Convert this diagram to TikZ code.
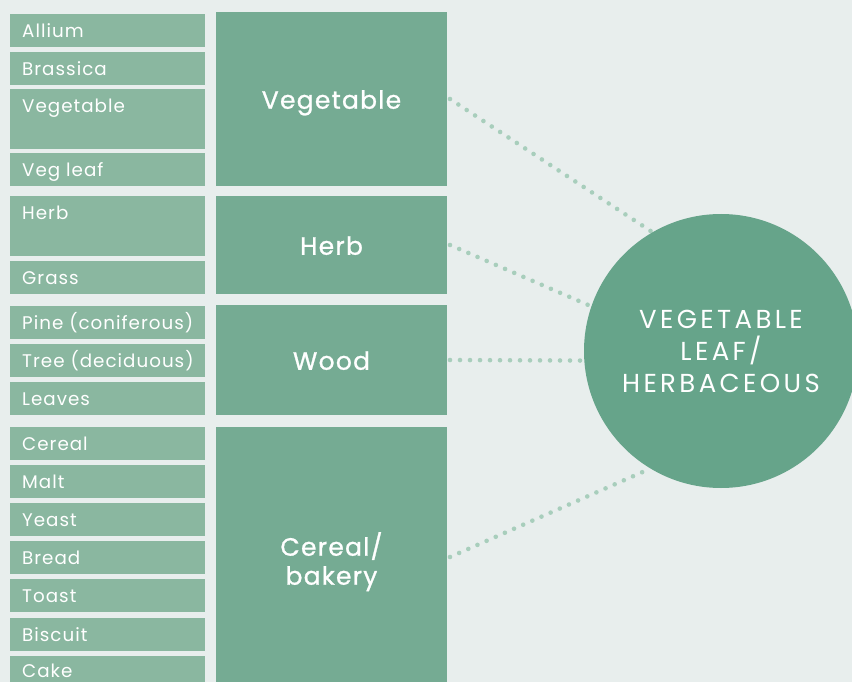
\documentclass[tikz,border=0pt]{standalone}
\usepackage{fontspec}
\setmainfont{Poppins}
\newfontfamily\smallfont[LetterSpace=5.5]{Poppins}
\newfontfamily\medfont[FakeBold=1,LetterSpace=5]{Poppins}
\newfontfamily\hubfont[LetterSpace=13]{Poppins}
\definecolor{bgc}{RGB}{232,238,237}
\definecolor{smallc}{RGB}{138,183,160}
\definecolor{bigc}{RGB}{117,171,147}
\definecolor{circc}{RGB}{102,164,138}
\definecolor{dotc}{RGB}{168,206,188}
\tikzset{
  smallbox/.style={draw=none, fill=smallc, anchor=north west, minimum width=195pt, inner sep=0pt, outer sep=0pt},
  smalltext/.style={anchor=base west, inner sep=0pt, text=white, font=\smallfont\fontsize{18.3}{20}\selectfont},
  bigbox/.style={draw=none, fill=bigc, anchor=north west, minimum width=231pt, inner sep=0pt, outer sep=0pt, text=white, align=center, text height=19.5pt, text depth=0pt, font=\medfont\fontsize{25}{29}\selectfont},
  bigtext/.style={inner sep=0pt, text=white, align=center, font=\medfont\fontsize{25}{29}\selectfont},
  dotline/.style={draw=dotc, line width=4.6pt, line cap=round, dash pattern=on 0pt off 10pt},
}
\newcommand{\leafbox}[5][23.5]{%
  \node[smallbox, minimum height=#4pt] (#2) at (10,#3) {};
  \node[smalltext] (#2t) at ([xshift=12pt, yshift=-#1pt]#2.north west) {#5};
}
\begin{document}
\begin{tikzpicture}[x=1pt, y=-1pt]
\fill[bgc] (0,0) rectangle (852,682);
\useasboundingbox (0,0) rectangle (852,682);
\clip (0,0) rectangle (852,682);
\leafbox{allium}{14}{33}{Allium}
\leafbox{brassica}{52}{33}{Brassica}
\leafbox{vegsmall}{89}{60}{Vegetable}
\leafbox{vegleaf}{153}{33}{Veg leaf}
\leafbox{herbsmall}{196}{60}{Herb}
\leafbox{grass}{261}{33}{Grass}
\leafbox{pine}{306}{33}{Pine (coniferous)}
\leafbox{tree}{344}{33}{Tree (deciduous)}
\leafbox{leaves}{382}{33}{Leaves}
\leafbox{cerealsmall}{427}{33}{Cereal}
\leafbox{malt}{465}{33}{Malt}
\leafbox{yeast}{503}{33}{Yeast}
\leafbox{bread}{541}{33}{Bread}
\leafbox{toast}{579}{33}{Toast}
\leafbox{biscuit}{618}{33}{Biscuit}
\leafbox[21]{cake}{656}{33}{Cake}
\node[bigbox, minimum height=174pt] (veg) at (216,12) {Vegetable};
\node[bigbox, minimum height=98pt] (herb) at (216,196) {Herb};
\node[bigbox, minimum height=110pt] (wood) at (216,305) {Wood};
\node[bigbox, minimum height=260pt] (cereal) at (216,427) {};
\node[bigtext, anchor=base] (cerealtxt) at ([yshift=-27.7pt]cereal.center) {Cereal/\\bakery};
\node[circle, minimum size=274pt, inner sep=0pt] (hub) at (721,351) {};
\draw[dotline] ([xshift=3pt]veg.east) -- (hub.120);
\draw[dotline] ([xshift=3pt]herb.east) -- (hub.161);
\draw[dotline] ([xshift=3pt]wood.east) -- (hub.184);
\draw[dotline] ([xshift=3pt]cereal.east) -- (hub.239);
\node[circle, fill=circc, minimum size=274pt, inner sep=0pt, text=white, align=center, font=\hubfont\fontsize{26}{32}\selectfont] (hubfill) at (hub) {VEGETABLE\\LEAF/\\HERBACEOUS};
\end{tikzpicture}
\end{document}
